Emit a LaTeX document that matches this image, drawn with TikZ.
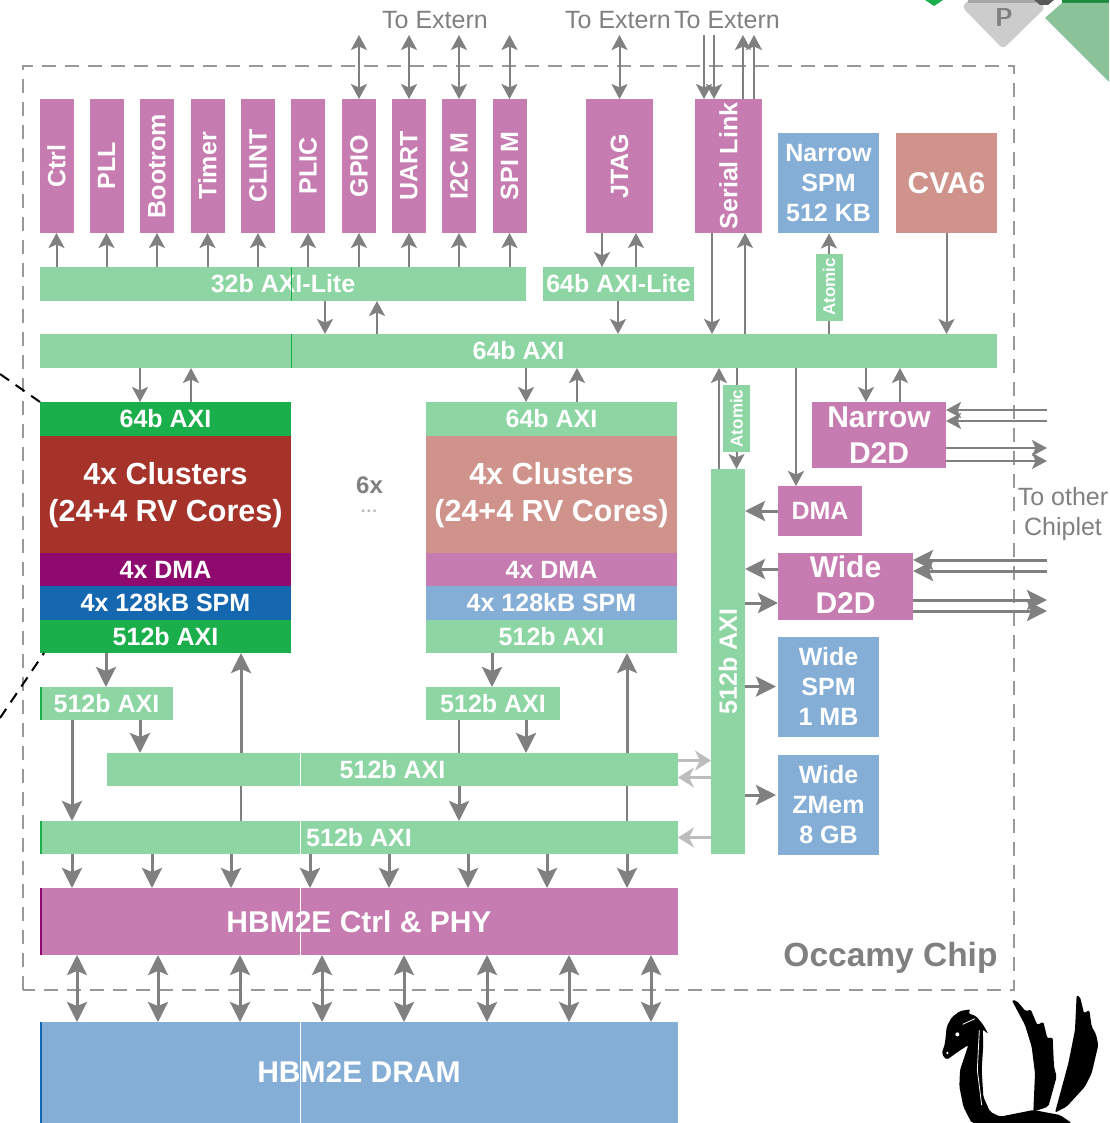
\documentclass[tikz,border=0pt]{standalone}
\usepackage{fontspec}
\setmainfont{Liberation Sans}
\usetikzlibrary{arrows.meta}
\definecolor{periphcol}{HTML}{C67CB0}
\definecolor{buscol}{HTML}{8DD6A4}
\definecolor{memcol}{HTML}{85AED6}
\definecolor{corecol}{HTML}{CF938C}
\definecolor{activebus}{HTML}{1BAF4B}
\definecolor{activecore}{HTML}{A5332A}
\definecolor{activedma}{HTML}{8E0A6E}
\definecolor{activemem}{HTML}{1567B0}
\definecolor{arrowcol}{HTML}{808080}
\definecolor{fadedcol}{HTML}{BDBDBD}
\definecolor{framecol}{HTML}{999999}
\definecolor{cornerlight}{HTML}{8AC29A}
\definecolor{cornerdark}{HTML}{1B8A3C}
\newcommand{\fsz}[1]{\bfseries\fontsize{#1}{#1}\selectfont}
\newcommand{\vlab}[1]{\rotatebox{90}{#1}}
\tikzset{
  block/.style={inner sep=0, outer sep=0, text=white, align=center, font=\fsz{25}},
  periph/.style={block, fill=periphcol, minimum width=34, minimum height=134},
  bus/.style={block, fill=buscol},
  mem/.style={block, fill=memcol, minimum width=101, minimum height=100, font=\bfseries\fontsize{25}{30}\selectfont},
  stack/.style={block, minimum width=251, minimum height=33.5},
  twoline/.style={block, fill=periphcol, font=\bfseries\fontsize{30}{36}\selectfont},
  note/.style={inner sep=0, outer sep=0, text=arrowcol, font=\fontsize{25}{30}\selectfont},
  arr/.style={draw=arrowcol, line width=2},
  warr/.style={draw=arrowcol, line width=3, >={Stealth[length=20pt,width=20pt,inset=4pt]}},
  farr/.style={draw=fadedcol, line width=2.5, >={Stealth[length=16pt,width=20pt,inset=5pt]}},
  seam/.style={line width=0.8}
}
\begin{document}
\begin{tikzpicture}[x=1pt, y=-1pt, >={Stealth[length=15pt,width=16pt,inset=3.5pt]}]
  \useasboundingbox (0,0) rectangle (1109,1123);
  \fill[white] (0,0) rectangle (1109,1123);

  \fill[activebus] (925,0) -- (934,6) -- (943,0) -- cycle;
  \fill[black!20, rounded corners=4] (968,0) -- (962,7) -- (1003,49) -- (1045,8) -- (1040,0) -- cycle;
  \fill[black!35] (968,0) rectangle (1036,3);
  \fill[black!65] (1034,0) -- (1054,0) -- (1048,5) -- (1040,5) -- cycle;
  \node[inner sep=0, text=arrowcol, font=\sffamily\fsz{26}] (plogo) at (1004,17) {P};
  \fill[cornerdark] (1062,0) rectangle (1109,3);
  \fill[cornerlight] (1045,18) -- (1062,3) -- (1109,3) -- (1109,82) -- cycle;

  \draw[framecol, line width=2, dash pattern=on 14pt off 9pt] (23,990) -- (23,66) -- (1014,66) -- (1014,990) -- cycle;

  \node[periph] (ctrl) at (56.5,166) {\vlab{Ctrl}};
  \node[periph] (pll) at (106.5,166) {\vlab{PLL}};
  \node[periph] (bootrom) at (157,166) {\vlab{Bootrom}};
  \node[periph] (timer) at (207.5,166) {\vlab{Timer}};
  \node[periph] (clint) at (258,166) {\vlab{CLINT}};
  \node[periph] (plic) at (308,166) {\vlab{PLIC}};
  \node[periph] (gpio) at (359,166) {\vlab{GPIO}};
  \node[periph] (uart) at (409,166) {\vlab{UART}};
  \node[periph] (i2c) at (459,166) {\vlab{I2C M}};
  \node[periph] (spi) at (509.5,166) {\vlab{SPI M}};
  \node[periph, minimum width=67] (jtag) at (619.5,166) {\vlab{JTAG}};
  \node[periph, minimum width=67] (serial) at (728.5,166) {\vlab{Serial Link}};
  \node[mem] (nspm) at (828.5,183.5) {Narrow\\SPM\\512 KB};
  \node[block, fill=corecol, font=\fsz{30}, minimum width=101, minimum height=100] (cva6) at (946.5,183) {CVA6};

  \node[bus, minimum width=486, minimum height=34] (lite32) at (283,284) {32b AXI-Lite};
  \node[bus, minimum width=151, minimum height=34] (lite64) at (618.5,284) {64b AXI-Lite};
  \node[bus, minimum width=957, minimum height=34] (axi) at (518.5,351) {64b AXI};
  \node[bus, font=\fsz{17}, minimum width=27, minimum height=67] (atomt) at (829,287) {\vlab{Atomic}};
  \node[bus, font=\fsz{17}, minimum width=27, minimum height=67] (atomb) at (736.5,418.5) {\vlab{Atomic}};

  \node[stack, fill=activebus] (cla) at (165.5,418.75) {64b AXI};
  \node[stack, fill=activecore, minimum height=119, font=\bfseries\fontsize{30.5}{37}\selectfont] (clb) at (165.5,495) {4x Clusters\\(24+4 RV Cores)};
  \node[stack, fill=activedma] (clc) at (165.5,570) {4x DMA};
  \node[stack, fill=activemem] (cld) at (165.5,603) {4x 128kB SPM};
  \node[stack, fill=activebus] (cle) at (165.5,636.25) {512b AXI};

  \node[stack, fill=buscol] (dra) at (551.5,418.75) {64b AXI};
  \node[stack, fill=corecol, minimum height=119, font=\bfseries\fontsize{30.5}{37}\selectfont] (drb) at (551.5,495) {4x Clusters\\(24+4 RV Cores)};
  \node[stack, fill=periphcol] (drc) at (551.5,570) {4x DMA};
  \node[stack, fill=memcol] (drd) at (551.5,603) {4x 128kB SPM};
  \node[stack, fill=buscol] (dre) at (551.5,636.25) {512b AXI};

  \node[inner sep=0, text=arrowcol, font=\fsz{24}] (six) at (369.5,485) {6x};
  \node[inner sep=0, text=fadedcol, font=\fsz{17}] (dots) at (369,511) {.\hspace{1pt}.\hspace{1pt}.};

  \node[bus, minimum width=133, minimum height=33] (sma) at (106.5,703.5) {512b AXI};
  \node[bus, minimum width=134, minimum height=33] (smb) at (493,703.5) {512b AXI};
  \node[bus, minimum width=571, minimum height=33] (mid) at (392.5,769.5) {512b AXI};
  \node[bus, minimum width=638, minimum height=33] (low) at (359,837.5) {512b AXI};
  \node[block, fill=periphcol, font=\fsz{30}, minimum width=638, minimum height=67] (hbm) at (359,921.5) {HBM2E Ctrl \& PHY};
  \node[block, fill=memcol, font=\fsz{30}, minimum width=638, minimum height=101] (dram) at (359,1072.5) {HBM2E DRAM};

  \node[bus, minimum width=34, minimum height=385] (wbus) at (728,661.5) {\vlab{512b AXI}};
  \node[twoline, minimum width=134, minimum height=66] (ndd) at (879,435) {Narrow\\D2D};
  \node[block, fill=periphcol, minimum width=84, minimum height=50] (dma) at (820,511) {DMA};
  \node[twoline, text depth=4, minimum width=135, minimum height=67] (wdd) at (845.5,586.5) {Wide\\D2D};
  \node[mem] (wspm) at (828.5,686.5) {Wide\\SPM\\1 MB};
  \node[mem] (zmem) at (828.5,804.5) {Wide\\ZMem\\8 GB};

  \node[note] (ext1) at (435,20) {To Extern};
  \node[note] (ext2) at (618,20) {To Extern};
  \node[note] (ext3) at (727,20) {To Extern};
  \node[note, align=center] (chiplet) at (1063,514) {To other\\Chiplet};
  \node[inner sep=0, text=arrowcol, font=\fsz{33.5}] (occamy) at (890.5,958) {Occamy Chip};

  \coordinate (egpio) at (359,35);
  \coordinate (euart) at (409,35);
  \coordinate (ei2c) at (459,35);
  \coordinate (espi) at (509.5,35);
  \coordinate (ejtag) at (619.5,35);
  \coordinate (esa) at (704,35);
  \coordinate (esb) at (714,35);
  \coordinate (esc) at (743,35);
  \coordinate (esd) at (754,35);
  \draw[arr, <->] (egpio) -- (gpio.north);
  \draw[arr, <->] (euart) -- (uart.north);
  \draw[arr, <->] (ei2c) -- (i2c.north);
  \draw[arr, <->] (espi) -- (spi.north);
  \draw[arr, <->] (ejtag) -- (jtag.north);
  \draw[arr, ->] (esa) -- (esa |- serial.north);
  \draw[arr, ->] (esb) -- (esb |- serial.north);
  \draw[arr, <-] (esc) -- (esc |- serial.north);
  \draw[arr, <-] (esd) -- (esd |- serial.north);

  \draw[arr, ->] (lite32.north -| ctrl) -- (ctrl.south);
  \draw[arr, ->] (lite32.north -| pll) -- (pll.south);
  \draw[arr, ->] (lite32.north -| bootrom) -- (bootrom.south);
  \draw[arr, ->] (lite32.north -| timer) -- (timer.south);
  \draw[arr, ->] (lite32.north -| clint) -- (clint.south);
  \draw[arr, ->] (lite32.north -| plic) -- (plic.south);
  \draw[arr, ->] (lite32.north -| gpio) -- (gpio.south);
  \draw[arr, ->] (lite32.north -| uart) -- (uart.south);
  \draw[arr, ->] (lite32.north -| i2c) -- (i2c.south);
  \draw[arr, ->] (lite32.north -| spi) -- (spi.south);

  \coordinate (x602) at (602,0);
  \coordinate (x636) at (636,0);
  \coordinate (x712) at (712,0);
  \coordinate (x745) at (745,0);
  \coordinate (x325) at (325,0);
  \coordinate (x377) at (377,0);
  \coordinate (x618) at (618,0);
  \coordinate (x140) at (140,0);
  \coordinate (x191) at (191,0);
  \coordinate (x526) at (526,0);
  \coordinate (x577) at (577,0);
  \coordinate (x719) at (719,0);
  \coordinate (x796) at (796,0);
  \coordinate (x866) at (866,0);
  \coordinate (x900) at (900,0);
  \draw[arr, ->] (x602 |- jtag.south) -- (x602 |- lite64.north);
  \draw[arr, <-] (x636 |- jtag.south) -- (x636 |- lite64.north);
  \draw[arr, ->] (x712 |- serial.south) -- (x712 |- axi.north);
  \draw[arr, <-] (x745 |- serial.south) -- (x745 |- axi.north);
  \draw[arr] (axi.north -| atomt) -- (atomt.south);
  \draw[arr, ->] (atomt.north) -- (nspm.south -| atomt);
  \draw[arr, ->] (cva6.south) -- (axi.north -| cva6);
  \draw[arr, ->] (x325 |- lite32.south) -- (x325 |- axi.north);
  \draw[arr, <-] (x377 |- lite32.south) -- (x377 |- axi.north);
  \draw[arr, ->] (x618 |- lite64.south) -- (x618 |- axi.north);
  \draw[arr, ->] (x140 |- axi.south) -- (x140 |- cla.north);
  \draw[arr, <-] (x191 |- axi.south) -- (x191 |- cla.north);
  \draw[arr, ->] (x526 |- axi.south) -- (x526 |- dra.north);
  \draw[arr, <-] (x577 |- axi.south) -- (x577 |- dra.north);
  \draw[arr, <-] (x719 |- axi.south) -- (x719 |- wbus.north);
  \draw[arr] (axi.south -| atomb) -- (atomb.north);
  \draw[arr, ->] (atomb.south) -- (wbus.north -| atomb);
  \draw[arr, ->] (x796 |- axi.south) -- (x796 |- dma.north);
  \draw[arr, ->] (x866 |- axi.south) -- (x866 |- ndd.north);
  \draw[arr, <-] (x900 |- axi.south) -- (x900 |- ndd.north);

  \coordinate (r410) at (1047,410);
  \coordinate (r421) at (1047,421);
  \coordinate (r448) at (1047,448);
  \coordinate (r461) at (1047,461);
  \coordinate (r560) at (1047,560);
  \coordinate (r571) at (1047,571);
  \coordinate (r600) at (1047,600);
  \coordinate (r611) at (1047,611);
  \draw[arr, ->] (r410) -- (r410 -| ndd.east);
  \draw[arr, ->] (r421) -- (r421 -| ndd.east);
  \draw[arr, <-] (r448) -- (r448 -| ndd.east);
  \draw[arr, <-] (r461) -- (r461 -| ndd.east);
  \draw[warr, ->] (r560) -- (r560 -| wdd.east);
  \draw[warr, ->] (r571) -- (r571 -| wdd.east);
  \draw[warr, <-] (r600) -- (r600 -| wdd.east);
  \draw[warr, <-] (r611) -- (r611 -| wdd.east);

  \coordinate (y569) at (0,569);
  \coordinate (y603) at (0,603);
  \coordinate (y760) at (0,760.5);
  \coordinate (y777) at (0,777.5);
  \coordinate (y795) at (0,795);
  \draw[warr, ->] (dma.west) -- (dma.west -| wbus.east);
  \draw[warr, ->] (wdd.west |- y569) -- (wbus.east |- y569);
  \draw[warr, ->] (wbus.east |- y603) -- (wdd.west |- y603);
  \draw[warr, ->] (wbus.east |- wspm) -- ([xshift=-2]wspm.west);
  \draw[warr, ->] (wbus.east |- y795) -- ([xshift=-2]zmem.west |- y795);
  \draw[farr, ->] (mid.east |- y760) -- (wbus.west |- y760);
  \draw[farr, <-] (mid.east |- y777) -- (wbus.west |- y777);
  \draw[farr, <-] (low.east) -- (low.east -| wbus.west);

  \coordinate (x72) at (72,0);
  \coordinate (x106) at (106,0);
  \coordinate (x241) at (241,0);
  \coordinate (x459) at (459,0);
  \coordinate (x492) at (492,0);
  \coordinate (x627) at (627,0);
  \draw[warr, ->] (x106 |- cle.south) -- (x106 |- sma.north);
  \draw[warr, <-] (x241 |- cle.south) -- (x241 |- mid.north);
  \draw[arr, line width=2.5] (x241 |- mid.south) -- (x241 |- low.north);
  \draw[warr, ->] (x492 |- dre.south) -- (x492 |- smb.north);
  \draw[warr, <-] (x627 |- dre.south) -- (x627 |- mid.north);
  \draw[arr, line width=2.5] (x627 |- mid.south) -- (x627 |- low.north);
  \draw[warr, ->] (x72 |- sma.south) -- (x72 |- low.north);
  \draw[warr, ->] (x140 |- sma.south) -- (x140 |- mid.north);
  \draw[arr, line width=2.5] (x459 |- smb.south) -- (x459 |- mid.north);
  \draw[warr, ->] (x459 |- mid.south) -- (x459 |- low.north);
  \draw[warr, ->] (x526 |- smb.south) -- (x526 |- mid.north);

  \coordinate (x152) at (152,0);
  \coordinate (x231) at (231,0);
  \coordinate (x310) at (310,0);
  \coordinate (x389) at (389,0);
  \coordinate (x468) at (468,0);
  \coordinate (x547) at (547,0);
  \draw[warr, ->] (x72 |- low.south) -- (x72 |- hbm.north);
  \draw[warr, ->] (x152 |- low.south) -- (x152 |- hbm.north);
  \draw[warr, ->] (x231 |- low.south) -- (x231 |- hbm.north);
  \draw[warr, ->] (x310 |- low.south) -- (x310 |- hbm.north);
  \draw[warr, ->] (x389 |- low.south) -- (x389 |- hbm.north);
  \draw[warr, ->] (x468 |- low.south) -- (x468 |- hbm.north);
  \draw[warr, ->] (x547 |- low.south) -- (x547 |- hbm.north);
  \draw[warr, ->] (x627 |- low.south) -- (x627 |- hbm.north);

  \coordinate (x77) at (77,0);
  \coordinate (x158) at (158,0);
  \coordinate (x240) at (240,0);
  \coordinate (x322) at (322,0);
  \coordinate (x404) at (404,0);
  \coordinate (x487) at (487,0);
  \coordinate (x569) at (569,0);
  \coordinate (x651) at (651,0);
  \draw[warr, <->] (x77 |- hbm.south) -- (x77 |- dram.north);
  \draw[warr, <->] (x158 |- hbm.south) -- (x158 |- dram.north);
  \draw[warr, <->] (x240 |- hbm.south) -- (x240 |- dram.north);
  \draw[warr, <->] (x322 |- hbm.south) -- (x322 |- dram.north);
  \draw[warr, <->] (x404 |- hbm.south) -- (x404 |- dram.north);
  \draw[warr, <->] (x487 |- hbm.south) -- (x487 |- dram.north);
  \draw[warr, <->] (x569 |- hbm.south) -- (x569 |- dram.north);
  \draw[warr, <->] (x651 |- hbm.south) -- (x651 |- dram.north);

  \coordinate (x291) at (291,0);
  \coordinate (x300) at (300,0);
  \coordinate (x41) at (41,0);
  \draw[activebus, seam] (x291 |- lite32.north) -- (x291 |- lite32.south);
  \draw[activebus, seam] (x291 |- axi.north) -- (x291 |- axi.south);
  \draw[white, seam] (x300 |- mid.north) -- (x300 |- mid.south);
  \draw[white, seam] (x300 |- low.north) -- (x300 |- low.south);
  \draw[white, seam] (x300 |- hbm.north) -- (x300 |- hbm.south);
  \draw[white, seam] (x300 |- dram.north) -- (x300 |- dram.south);
  \draw[activebus, seam, line width=1.5] (x41 |- sma.north) -- (x41 |- sma.south);
  \draw[activebus, seam, line width=1.5] (x41 |- low.north) -- (x41 |- low.south);
  \draw[activedma, seam, line width=1.5] (x41 |- hbm.north) -- (x41 |- hbm.south);
  \draw[activemem, seam, line width=1.5] (x41 |- dram.north) -- (x41 |- dram.south);

  \coordinate (za) at (0,374);
  \coordinate (zb) at (0,718);
  \draw[black, line width=2, dash pattern=on 11pt off 8pt] (za) -- (cla.north west);
  \draw[black, line width=2, dash pattern=on 11pt off 8pt] (zb) -- ([xshift=4]cle.south west);

  \begin{scope}[shift={(900,930)}, x=0.3333pt, y=-0.3333pt]
    \fill[black, rounded corners=2] (125,372) -- (135,340) -- (140,290) -- (155,262) -- (180,243) -- (212,238) -- (205,250) -- (228,258) -- (250,285) -- (265,312) -- (248,298) -- (250,340) -- (245,420) -- (250,500) -- (270,545) -- (300,560) -- (400,540) -- (480,555) -- (515,579) -- (215,579) -- (190,530) -- (178,470) -- (180,420) -- (195,375) -- (205,345) -- (170,368) -- (140,390) -- cycle;
    \fill[black, rounded corners=2] (335,210) -- (350,212) -- (378,245) -- (392,238) -- (412,285) -- (430,275) -- (442,325) -- (458,322) -- (462,410) -- (470,440) -- (445,530) -- (400,545) -- (405,430) -- (395,350) -- (375,285) -- cycle;
    \fill[black, rounded corners=2] (530,195) -- (540,200) -- (552,250) -- (568,240) -- (575,290) -- (588,312) -- (595,345) -- (575,430) -- (555,470) -- (500,530) -- (465,548) -- (505,400) -- (525,300) -- cycle;
    \fill[white] (172,313) circle (6);
    \fill[white] (142,369) circle (4);
    \draw[white, line width=0.8] (188,283) -- (225,266);
    \draw[white, line width=0.8] (238,300) -- (232,420) -- (245,525);
  \end{scope}
\end{tikzpicture}
\end{document}
